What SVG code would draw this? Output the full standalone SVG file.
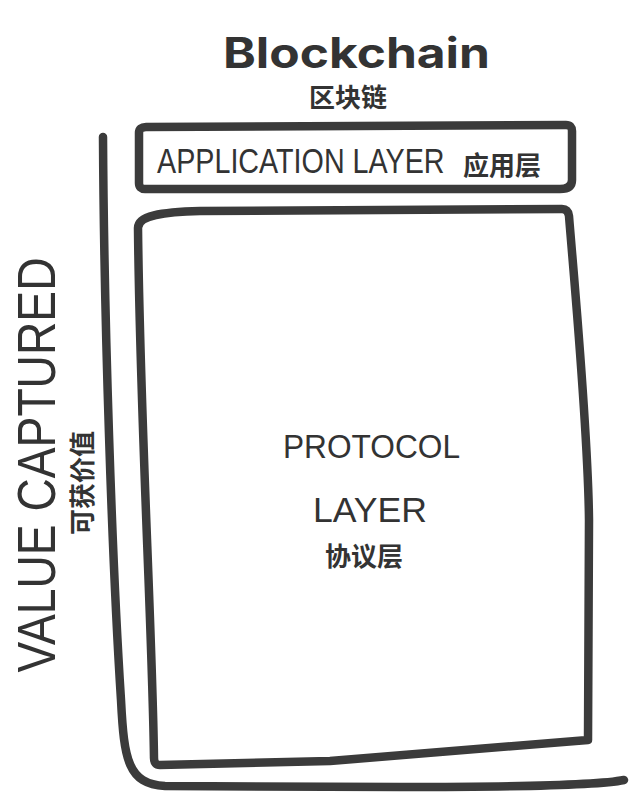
<svg xmlns="http://www.w3.org/2000/svg" width="629" height="795" viewBox="0 0 629 795">
<style>
.stroke{fill:none;stroke:#3b3b3b;stroke-width:8.5;stroke-linecap:round;stroke-linejoin:round}
.hand{font-family:"Liberation Sans","DejaVu Sans",sans-serif;fill:#333;font-weight:400}
.cjk{font-family:"Noto Sans CJK SC","Noto Sans CJK TC",sans-serif;font-weight:700;fill:#333}
.title{font-family:Inter,"Liberation Sans",sans-serif;font-weight:700;fill:#333}
</style>
<rect width="629" height="795" fill="#fff"/>
<g id="title">
<text class="title" x="223" y="68" font-size="42" textLength="267" lengthAdjust="spacingAndGlyphs">Blockchain</text>
<text class="cjk" x="348" y="107" font-size="26" text-anchor="middle">区块链</text>
</g>
<g id="connectors">
<path id="axis" class="stroke" d="M103,137 C104,320 112,560 121,700 C124,760 128,784 165,786 L400,787 C520,787 600,785 624,780"/>
</g>
<g id="application-layer">
<path class="stroke" d="M146,127 L566,125 Q572,125 572,131 L572,180 Q572,189 560,189 L145,189 Q139,189 139,183 L139,133 Q139,127 146,127 Z"/>
<text class="hand" transform="translate(157,173) scale(0.82,1)" font-size="35">APPLICATION LAYER</text>
<text class="cjk" x="463" y="175" font-size="26">应用层</text>
</g>
<g id="protocol-layer">
<path class="stroke" d="M138,228 C138,216 160,212 200,211 L562,209 Q568,209 569,216 C575,290 588,430 589,520 L588,740 L330,761 L160,765 Q154,765 154,758 C152,620 140,420 138,228 Z"/>
<text class="hand" x="283" y="458" font-size="33" textLength="177" lengthAdjust="spacingAndGlyphs">PROTOCOL</text>
<text class="hand" x="313" y="522" font-size="35" textLength="114" lengthAdjust="spacingAndGlyphs">LAYER</text>
<text class="cjk" x="325" y="566" font-size="26">协议层</text>
</g>
<g id="value-captured">
<text class="hand" transform="translate(55,465) rotate(-90)" font-size="54" text-anchor="middle" textLength="415" lengthAdjust="spacingAndGlyphs">VALUE CAPTURED</text>
<text class="cjk" transform="translate(92,483) rotate(-90)" font-size="26" text-anchor="middle">可获价值</text>
</g>
</svg>
